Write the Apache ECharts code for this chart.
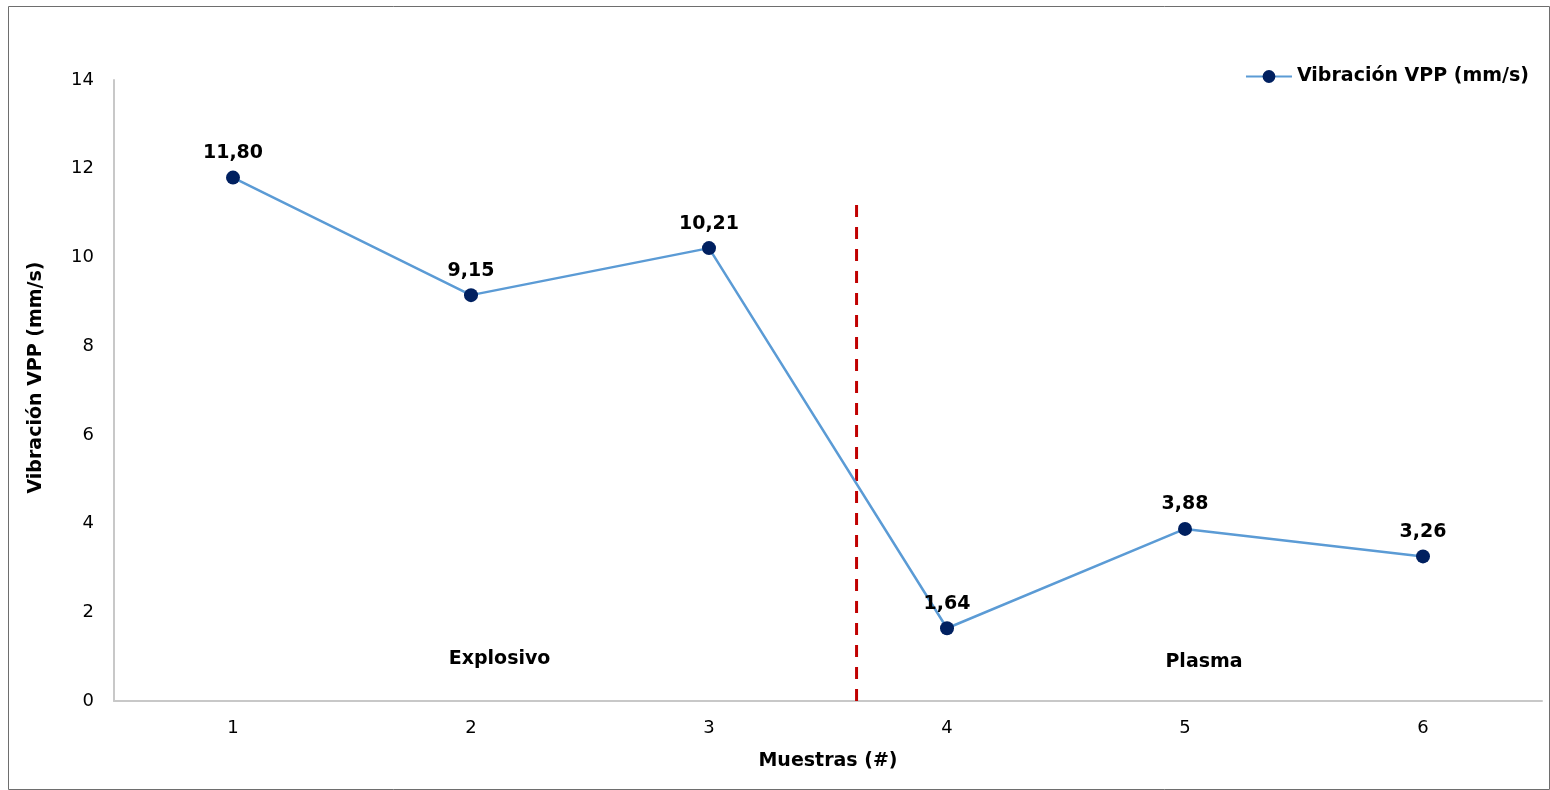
<!DOCTYPE html>
<html><head><meta charset="utf-8">
<script src="https://cdn.jsdelivr.net/npm/echarts@6/dist/echarts.min.js"></script>
<style>html,body{margin:0;padding:0;background:#fff;}#c{width:1550px;height:790px;}</style>
</head><body><div id="c"></div>
<script>
const categories = ['1','2','3','4','5','6'];
const vibration = [11.80, 9.15, 10.21, 1.64, 3.88, 3.26];
const yTicks = [0, 2, 4, 6, 8, 10, 12, 14];
const dividerX = [2.62, 2.62];
const dividerY = [0, 11.25];
const groupNames = ['Explosivo', 'Plasma'];
const groupX = [1.12, 4.08];
const groupY = [0.95, 0.88];

const FONT = '"DejaVu Sans", "Liberation Sans", Arial, sans-serif';
const chart = echarts.init(document.getElementById('c'), null, {renderer: 'canvas'});
chart.setOption({
  backgroundColor: '#fff',
  animation: false,
  textStyle: {fontFamily: FONT},
  graphic: [{
    type: 'rect', left: 6, top: 4,
    shape: {width: 1541, height: 783},
    style: {fill: 'none', stroke: '#6e6e6e', lineWidth: 1}, silent: true
  }],
  legend: {
    right: 16, top: 62, itemWidth: 46, itemHeight: 16, itemGap: 5,
    data: ['Vibración VPP (mm/s)'],
    textStyle: {fontFamily: FONT, fontSize: 19, fontWeight: 'bold', color: '#000'}
  },
  grid: {left: 114, right: 8, top: 80, bottom: 89, containLabel: false},
  xAxis: [{
    type: 'category', data: categories, boundaryGap: true,
    name: 'Muestras (#)', nameLocation: 'middle', nameGap: 51,
    nameTextStyle: {fontFamily: FONT, fontSize: 19, fontWeight: 'bold', color: '#000'},
    axisLine: {lineStyle: {color: '#c8c8c8', width: 2}},
    axisTick: {show: false},
    axisLabel: {fontFamily: FONT, fontSize: 18, color: '#000', margin: 18}
  }, {
    type: 'value', min: -0.5, max: 5.5, show: false
  }],
  yAxis: {
    type: 'value', min: yTicks[0], max: yTicks[yTicks.length - 1], interval: 2,
    name: 'Vibración VPP (mm/s)', nameLocation: 'middle', nameGap: 68,
    nameTextStyle: {fontFamily: FONT, fontSize: 19, fontWeight: 'bold', color: '#000', padding: [0, 0, 0, 26]},
    axisLine: {show: true, onZero: false, lineStyle: {color: '#c8c8c8', width: 2}},
    axisTick: {show: false},
    splitLine: {show: false},
    axisLabel: {fontFamily: FONT, fontSize: 18, color: '#000', margin: 20}
  },
  series: [{
    name: 'Vibración VPP (mm/s)', type: 'line', xAxisIndex: 0,
    data: vibration, symbol: 'circle', symbolSize: 14,
    lineStyle: {color: '#5b9bd5', width: 2.5},
    itemStyle: {color: '#002060'},
    label: {
      show: true, position: 'top', distance: 8,
      formatter: p => p.value.toFixed(2).replace('.', ','),
      fontFamily: FONT, fontSize: 19, fontWeight: 'bold', color: '#000'
    },
    z: 3
  }, {
    name: 'divider', type: 'line', xAxisIndex: 1,
    data: dividerX.map((x, i) => [x, dividerY[i]]),
    symbol: 'none', lineStyle: {color: '#c00000', width: 3, type: [12, 10]},
    silent: true, z: 2
  }, {
    name: 'groups', type: 'scatter', xAxisIndex: 1,
    data: groupNames.map((n, i) => ({value: [groupX[i], groupY[i]], name: n})),
    symbolSize: 0, itemStyle: {opacity: 1},
    label: {show: true, position: 'inside', formatter: p => p.name,
      fontFamily: FONT, fontSize: 19, fontWeight: 'bold', color: '#000'},
    silent: true
  }]
});
</script></body></html>
